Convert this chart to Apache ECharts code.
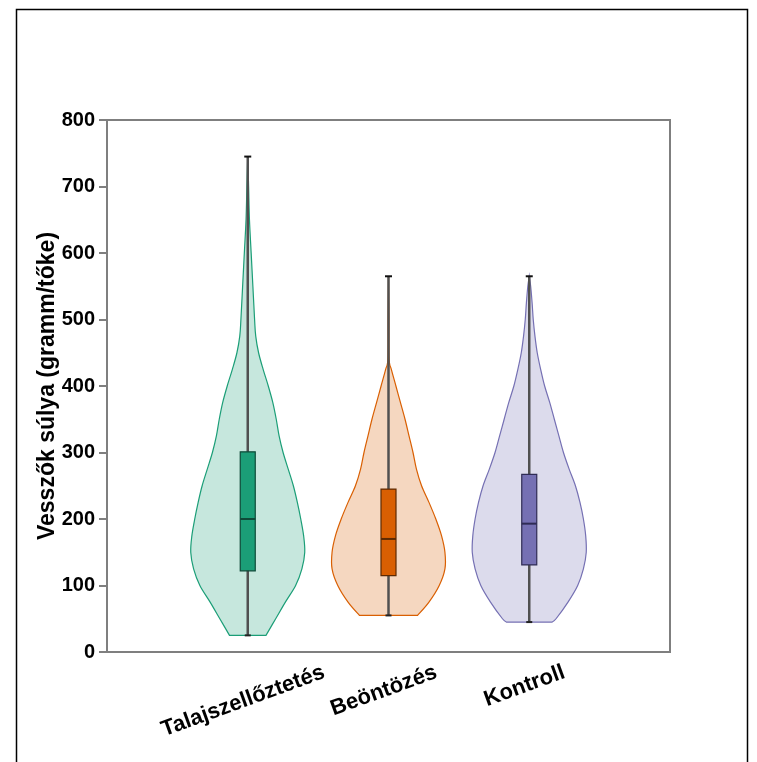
<!DOCTYPE html>
<html><head><meta charset="utf-8">
<script src="https://cdn.jsdelivr.net/npm/echarts@6/dist/echarts.min.js"></script>
<style>html,body{margin:0;padding:0;background:#fff}#main{width:757px;height:762px}</style>
</head><body><div id="main"></div>
<script>
// ---- data ----
const categories = ['Talajszellőztetés', 'Beöntözés', 'Kontroll'];
const yTicks = [0, 100, 200, 300, 400, 500, 600, 700, 800];
const minVals = [25, 55, 45];
const q1Vals = [122, 115, 131];
const medianVals = [200, 170, 193];
const q3Vals = [301, 245, 267];
const maxVals = [745, 565, 565];
// relative violin width (1 = widest) at each value
const densityTalaj = [[25,0.32],[50,0.49],[75,0.66],[100,0.84],[125,0.95],[150,1.0],[175,0.98],[200,0.93],[225,0.87],[250,0.80],[275,0.71],[300,0.62],[325,0.55],[350,0.50],[375,0.44],[400,0.36],[425,0.27],[450,0.19],[475,0.14],[500,0.12],[550,0.09],[600,0.06],[650,0.03],[700,0.015],[745,0]];
const densityBeont = [[55,0.51],[75,0.71],[100,0.89],[125,0.99],[150,0.99],[175,0.93],[200,0.83],[225,0.71],[250,0.58],[275,0.49],[300,0.43],[325,0.36],[350,0.29],[375,0.21],[400,0.13],[425,0.05],[440,0.012],[500,0.008],[565,0]];
const densityKontroll = [[45,0.40],[50,0.47],[75,0.68],[100,0.85],[125,0.95],[150,1.0],[175,0.99],[200,0.95],[225,0.89],[250,0.81],[275,0.70],[300,0.60],[325,0.52],[350,0.44],[375,0.36],[400,0.27],[425,0.20],[450,0.14],[475,0.10],[500,0.07],[525,0.05],[550,0.025],[565,0]];
const densities = [densityTalaj, densityBeont, densityKontroll];

// ---- styles ----
const FONT = '"Liberation Sans", Arial, Helvetica, sans-serif';
const colors = ['#1b9e77', '#d95f02', '#7570b3'];
const fills = ['rgba(27,158,119,0.25)', 'rgba(217,95,2,0.25)', 'rgba(117,112,179,0.25)'];
const darkColors = ['#0e4a38', '#5e2a02', '#2f2c55'];
const VIOLIN_HALF = 57;  // px
const BOX_HALF = 7.5;    // px
const XFS = 22;

const chart = echarts.init(document.getElementById('main'), null, {renderer: 'canvas'});

// rotated x labels: keep the top of each rotated label at the same height
const ctx = document.createElement('canvas').getContext('2d');
ctx.font = 'bold ' + XFS + 'px ' + FONT;
const S = Math.sin(20 * Math.PI / 180), C = Math.cos(20 * Math.PI / 180);
const rich = {};
categories.forEach((c, i) => {
  const w = ctx.measureText(c).width;
  const p = w * S * C;
  rich['c' + i] = {fontSize: XFS, fontWeight: 'bold', fontFamily: FONT, color: '#000',
                   padding: [p, p * S / C + 10, 0, 0]};
});

// smooth curve through points (Catmull-Rom as cubic Bezier), returns path commands
function curveThrough(pts) {
  let d = '';
  for (let i = 0; i < pts.length - 1; i++) {
    const p0 = pts[Math.max(i - 1, 0)], p1 = pts[i], p2 = pts[i + 1], p3 = pts[Math.min(i + 2, pts.length - 1)];
    const c1 = [p1[0] + (p2[0] - p0[0]) / 6, p1[1] + (p2[1] - p0[1]) / 6];
    const c2 = [p2[0] - (p3[0] - p1[0]) / 6, p2[1] - (p3[1] - p1[1]) / 6];
    d += ' C' + c1[0] + ' ' + c1[1] + ' ' + c2[0] + ' ' + c2[1] + ' ' + p2[0] + ' ' + p2[1];
  }
  return d;
}

function violinSeries(idx) {
  const dens = densities[idx];
  return {
    type: 'custom',
    coordinateSystem: 'cartesian2d',
    clip: false,
    silent: true,
    data: [[idx + 1, medianVals[idx]]],
    renderItem: function (params, api) {
      const x = idx + 1;
      const cx = api.coord([x, 0])[0];
      const left = [], right = [];
      dens.forEach(function (d) {
        const y = api.coord([x, d[0]])[1];
        left.push([cx - d[1] * VIOLIN_HALF, y]);
        right.push([cx + d[1] * VIOLIN_HALF, y]);
      });
      right.reverse();
      const pathData = 'M' + left[0][0] + ' ' + left[0][1] + curveThrough(left) +
        ' L' + right[0][0] + ' ' + right[0][1] + curveThrough(right) + ' Z';
      const yMin = api.coord([x, minVals[idx]])[1];
      const yMax = api.coord([x, maxVals[idx]])[1];
      const yQ1 = api.coord([x, q1Vals[idx]])[1];
      const yQ3 = api.coord([x, q3Vals[idx]])[1];
      const yMed = api.coord([x, medianVals[idx]])[1];
      return {
        type: 'group',
        children: [
          {type: 'path', shape: {pathData: pathData},
           style: {fill: fills[idx], stroke: colors[idx], lineWidth: 1.2}},
          {type: 'line', shape: {x1: cx, y1: yMin, x2: cx, y2: yMax},
           style: {stroke: '#505050', lineWidth: 2.5}},
          {type: 'line', shape: {x1: cx - 3.5, y1: yMax, x2: cx + 3.5, y2: yMax},
           style: {stroke: '#111', lineWidth: 2}},
          {type: 'line', shape: {x1: cx - 3, y1: yMin, x2: cx + 3, y2: yMin},
           style: {stroke: '#222', lineWidth: 2}},
          {type: 'rect', shape: {x: cx - BOX_HALF, y: yQ3, width: 2 * BOX_HALF, height: yQ1 - yQ3},
           style: {fill: colors[idx], stroke: darkColors[idx], lineWidth: 1.2}},
          {type: 'line', shape: {x1: cx - BOX_HALF, y1: yMed, x2: cx + BOX_HALF, y2: yMed},
           style: {stroke: darkColors[idx], lineWidth: 2}}
        ]
      };
    }
  };
}

chart.setOption({
  animation: false,
  backgroundColor: '#fff',
  graphic: [{type: 'rect', left: 14, top: 7, shape: {width: 731, height: 790},
             style: {fill: 'none', stroke: '#000', lineWidth: 1.5}, silent: true}],
  grid: {left: 107, top: 120, right: 87, bottom: 110, show: true,
         borderColor: '#7f7f7f', borderWidth: 2, containLabel: false},
  xAxis: {
    type: 'value', min: 0, max: 4, interval: 1,
    axisLine: {show: true, lineStyle: {color: '#7f7f7f', width: 2}},
    axisTick: {show: false},
    splitLine: {show: false},
    axisLabel: {
      rotate: 20, margin: 18, align: 'center', verticalAlign: 'middle',
      showMinLabel: true, showMaxLabel: true,
      formatter: function (v) { return (v >= 1 && v <= 3) ? '{c' + (v - 1) + '|' + categories[v - 1] + '}' : ''; },
      rich: rich
    }
  },
  yAxis: {
    type: 'value', min: yTicks[0], max: yTicks[yTicks.length - 1], interval: yTicks[1] - yTicks[0],
    name: 'Vesszők súlya (gramm/tőke)', nameLocation: 'middle', nameGap: 48, nameMoveOverlap: false,
    nameTextStyle: {fontSize: 23, fontWeight: 'bold', fontFamily: FONT, color: '#000'},
    axisLine: {show: true, lineStyle: {color: '#7f7f7f', width: 2}},
    axisTick: {show: true, length: 8, lineStyle: {color: '#7f7f7f', width: 2}},
    splitLine: {show: false},
    axisLabel: {fontSize: 20, fontWeight: 'bold', fontFamily: FONT, color: '#000', margin: 12}
  },
  series: [violinSeries(0), violinSeries(1), violinSeries(2)]
});
</script></body></html>
